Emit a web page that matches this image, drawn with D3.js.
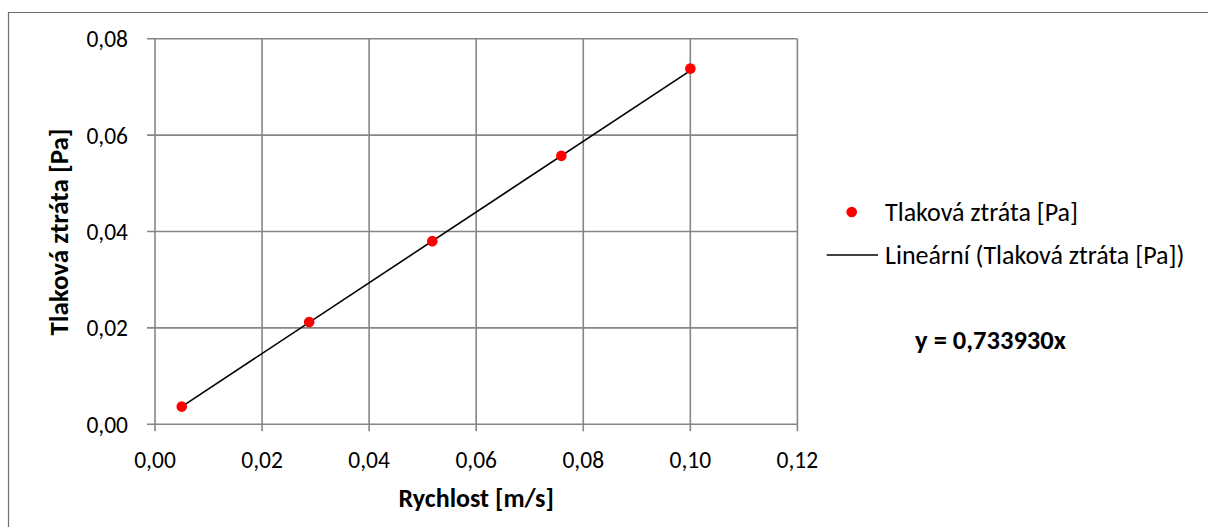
<!DOCTYPE html>
<html>
<head>
<meta charset="utf-8">
<script src="https://cdn.jsdelivr.net/npm/d3@7"></script>
<style>
  body { margin: 0; background: #fff; }
  svg text { font-family: Carlito, Calibri, Lato, sans-serif; fill: #000; }
</style>
</head>
<body>
<svg id="chart" width="1208" height="527"></svg>
<script>
// data
var rychlost = [0.005, 0.0288, 0.0518, 0.0759, 0.1]
var ztrata = [0.00367, 0.0212, 0.038, 0.0557, 0.0738]
var slope = 0.73393
var xTicks = [0, 0.02, 0.04, 0.06, 0.08, 0.10, 0.12]
var yTicks = [0, 0.02, 0.04, 0.06, 0.08]
var seriesName = "Tlaková ztráta [Pa]"
var trendName = "Lineární (Tlaková ztráta [Pa])"
var equation = "y = 0,733930x"

var dims = {
    margin: { top: 38.7, left: 155 },
    width: 642.4,
    height: 385.6
}

var svg = d3.select("#chart")

// chart frame (only top and left edges are visible)
svg.append("path")
    .attr("d", "M8.5,527 V12.5 H1208")
    .attr("fill", "none")
    .attr("stroke", "#6e6e6e")
    .attr("stroke-width", 1.2)

var g = svg.append("g")
    .attr("transform", "translate(" + dims.margin.left + "," + dims.margin.top + ")")

var x = d3.scaleLinear().domain([0, 0.12]).range([0, dims.width])
var y = d3.scaleLinear().domain([0, 0.08]).range([dims.height, 0])

var fmt = function(d) { return d3.format(".2f")(d).replace(".", ",") }

// grid
g.append("g").selectAll("line")
    .data(xTicks)
    .enter().append("line")
        .attr("x1", function(d) { return x(d) })
        .attr("x2", function(d) { return x(d) })
        .attr("y1", 0)
        .attr("y2", dims.height + 7)
        .attr("stroke", "#868686")
        .attr("stroke-width", 1.6)

g.append("g").selectAll("line")
    .data(yTicks)
    .enter().append("line")
        .attr("x1", -8)
        .attr("x2", dims.width)
        .attr("y1", function(d) { return y(d) })
        .attr("y2", function(d) { return y(d) })
        .attr("stroke", "#868686")
        .attr("stroke-width", 1.6)

// tick labels
g.append("g").selectAll("text")
    .data(xTicks)
    .enter().append("text")
        .attr("x", function(d) { return x(d) })
        .attr("y", dims.height + 44)
        .attr("text-anchor", "middle")
        .style("font-size", "23.5px")
        .text(fmt)

g.append("g").selectAll("text")
    .data(yTicks)
    .enter().append("text")
        .attr("x", -27)
        .attr("y", function(d) { return y(d) })
        .attr("dy", "0.36em")
        .attr("text-anchor", "end")
        .style("font-size", "23.5px")
        .text(fmt)

// axis titles
g.append("text")
    .attr("x", dims.width / 2)
    .attr("y", dims.height + 83)
    .attr("text-anchor", "middle")
    .style("font-size", "26px")
    .style("font-weight", "bold")
    .text("Rychlost [m/s]")

svg.append("text")
    .attr("transform", "translate(68,232) rotate(-90)")
    .attr("text-anchor", "middle")
    .style("font-size", "27px")
    .style("font-weight", "bold")
    .text(seriesName)

// trendline through origin, drawn over the data range
var xr = d3.extent(rychlost)
g.append("line")
    .attr("x1", x(xr[0]))
    .attr("y1", y(slope * xr[0]))
    .attr("x2", x(xr[1]))
    .attr("y2", y(slope * xr[1]))
    .attr("stroke", "#000")
    .attr("stroke-width", 1.6)

// points
g.append("g").selectAll("circle")
    .data(rychlost)
    .enter().append("circle")
        .attr("cx", function(d) { return x(d) })
        .attr("cy", function(d, i) { return y(ztrata[i]) })
        .attr("r", 5.3)
        .attr("fill", "#ff0000")

// legend
svg.append("circle")
    .attr("cx", 851.7)
    .attr("cy", 212)
    .attr("r", 5.3)
    .attr("fill", "#ff0000")

svg.append("text")
    .attr("x", 885)
    .attr("y", 212)
    .attr("dy", "0.36em")
    .style("font-size", "26px")
    .text(seriesName)

svg.append("line")
    .attr("x1", 826.7)
    .attr("x2", 878)
    .attr("y1", 255)
    .attr("y2", 255)
    .attr("stroke", "#000")
    .attr("stroke-width", 1.6)

svg.append("text")
    .attr("x", 885)
    .attr("y", 255)
    .attr("dy", "0.36em")
    .style("font-size", "26px")
    .text(trendName)

svg.append("text")
    .attr("x", 990.5)
    .attr("y", 339)
    .attr("dy", "0.36em")
    .attr("text-anchor", "middle")
    .style("font-size", "26.5px")
    .style("font-weight", "bold")
    .text(equation)
</script>
</body>
</html>
